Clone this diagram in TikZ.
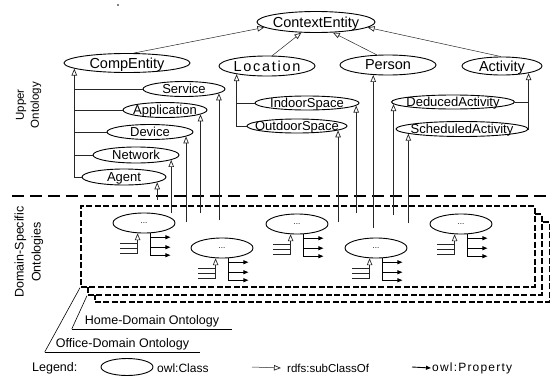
\documentclass[tikz,border=0pt]{standalone}
\usepackage{fontspec}
\setmainfont{Liberation Sans}
\usetikzlibrary{shapes.geometric,arrows.meta}
\newcommand{\ctext}[1]{\makebox[0pt]{\smash{\raisebox{-0.5\height}{#1}}}}
\newcommand{\domcls}[2]{%
  \node[dom] (#1) at (#2) {\ctext{...}};
  \path (#1.238) ++(0,20) coordinate (#1s);
  \draw[sub] (#1s) -- (#1.238);
  \draw[bus] (#1s) -- ++(-18,0);
  \draw[bus] ([yshift=5pt]#1s) -- ++(-18,0);
  \draw[bus] ([yshift=10pt]#1s) -- ++(-18,0);
  \path (#1.302) ++(0,22) coordinate (#1p);
  \draw[propl] (#1.302) -- (#1p);
  \draw[prop] (#1p) -- ++(20,0);
  \draw[prop] ([yshift=8pt]#1p) -- ++(20,0);
  \draw[prop] ([yshift=18pt]#1p) -- ++(20,0);
}
\begin{document}
\begin{tikzpicture}[x=1pt,y=-1pt,
  cls/.style={ellipse,draw,line width=0.9pt,inner sep=0pt,font=\fontsize{13}{13}\selectfont},
  topc/.style={cls,font=\fontsize{14.5}{14.5}\selectfont},
  dom/.style={ellipse,draw,line width=0.9pt,inner sep=0pt,minimum width=62pt,minimum height=20pt,font=\fontsize{8}{8}\selectfont},
  sub/.style={line width=0.5pt,draw=black!85,-{Triangle[open,length=7pt,width=5.5pt,line width=0.7pt]}},
  bus/.style={line width=0.5pt,draw=black!85},
  prop/.style={line width=0.9pt,-{Triangle[length=5pt,width=4pt]}},
  propl/.style={line width=0.9pt},
  bigdash/.style={line width=2.2pt,dash pattern=on 12pt off 6pt},
  boxd/.style={draw,line width=1.7pt,dash pattern=on 6pt off 2.5pt,fill=white,inner sep=0pt,anchor=north west},
  lab/.style={font=\fontsize{12.5}{12.5}\selectfont,inner ysep=2pt},
  side/.style={rotate=90,align=center},
]
\useasboundingbox (0,0) rectangle (550,378);
\fill (118,5) circle (0.9pt);

% domain boxes
\node[boxd,minimum width=455pt,minimum height=80pt] (dom3) at (94,221) {};
\node[boxd,minimum width=454pt,minimum height=81pt] (home) at (87,213) {};
\node[boxd,minimum width=454pt,minimum height=81pt] (office) at (80,205) {};

% separator
\coordinate (sepL) at (12,196);
\coordinate (sepR) at (550,196);
\draw[bigdash] (sepL) -- (sepR);

% side labels
\node[side,font=\fontsize{11.5}{15}\selectfont] (uo) at (28.5,105) {Upper\\Ontology};
\node[side,font=\fontsize{12.5}{17}\selectfont] (dso) at (29,252) {Domain-Specific\\Ontologies};

% upper ontology classes
\node[topc,minimum width=118pt,minimum height=21pt] (ctx) at (316,22) {\ctext{ContextEntity}};
\node[topc,minimum width=126pt,minimum height=19pt] (comp) at (127,63) {\ctext{CompEntity}};
\node[topc,minimum width=96pt,minimum height=20pt] (loc) at (267,66) {\ctext{\addfontfeatures{LetterSpace=12}Location}};
\node[topc,minimum width=96pt,minimum height=20pt] (person) at (388,65) {\ctext{Person}};
\node[topc,minimum width=80pt,minimum height=18pt] (act) at (502,66) {\ctext{Activity}};

\node[cls,minimum width=82pt,minimum height=15pt] (service) at (184,89) {\ctext{Service}};
\node[cls,minimum width=84pt,minimum height=15pt] (app) at (165,110) {\ctext{Application}};
\node[cls,minimum width=86pt,minimum height=15pt] (device) at (150,132) {\ctext{Device}};
\node[cls,minimum width=86pt,minimum height=16pt] (network) at (136,155) {\ctext{Network}};
\node[cls,minimum width=84pt,minimum height=16pt] (agent) at (124,177) {\ctext{Agent}};
\node[cls,minimum width=104pt,minimum height=14pt] (indoor) at (307,103) {\ctext{IndoorSpace}};
\node[cls,minimum width=100pt,minimum height=14pt] (outdoor) at (297,126) {\ctext{OutdoorSpace}};
\node[cls,minimum width=123pt,minimum height=14pt] (deduced) at (453,102) {\ctext{DeducedActivity}};
\node[cls,minimum width=132pt,minimum height=15pt] (scheduled) at (462,129) {\ctext{ScheduledActivity}};

% to ContextEntity
\draw[sub] (comp.56) -- (ctx.186);
\draw[sub] (loc.63) -- (ctx.216);
\draw[sub] (person.138) -- (ctx.328);
\draw[sub] (act.97) -- (ctx.354);

% CompEntity bus
\draw[sub] (agent.west) -| (comp.186);
\draw[bus] (service.west) -- (service.west -| comp.186);
\draw[bus] (app.west) -- (app.west -| comp.186);
\draw[bus] (device.west) -- (device.west -| comp.186);
\draw[bus] (network.west) -- (network.west -| comp.186);

% Location bus
\draw[sub] (outdoor.west) -| (loc.195);
\draw[bus] (indoor.west) -- (indoor.west -| loc.195);

% Activity bus
\draw[sub] (scheduled.east) -| (act.345);
\draw[bus] (deduced.east) -- (deduced.east -| act.345);

% lines down into the domain ontologies
\coordinate (yA) at (0,200);
\coordinate (yB) at (0,213);
\coordinate (yC) at (0,215);
\coordinate (yD) at (0,220);
\coordinate (yE) at (0,222);
\coordinate (yF) at (0,223);
\coordinate (yG) at (0,228);
\draw[sub] (agent.351 |- yA) -- (agent.351);
\draw[sub] (network.352 |- yB) -- (network.352);
\draw[sub] (device.353 |- yE) -- (device.353);
\draw[sub] (app.353 |- yB) -- (app.353);
\draw[sub] (service.353 |- yD) -- (service.353);
\draw[sub] (outdoor.354 |- yE) -- (outdoor.354);
\draw[sub] (indoor.357 |- yB) -- (indoor.357);
\draw[sub] (person.214 |- yG) -- (person.214);
\draw[sub] (deduced.182 |- yC) -- (deduced.182);
\draw[sub] (scheduled.185 |- yF) -- (scheduled.185);

% domain classes
\domcls{d1}{144,223}
\domcls{d2}{222,248}
\domcls{d3}{297,224}
\domcls{d4}{376,248}
\domcls{d5}{461,224}

% box labels
\node[lab,anchor=south,inner xsep=13pt] (homel) at (152,329) {Home-Domain Ontology};
\draw[line width=0.6pt] (homel.south west) -- (homel.south east);
\draw[line width=0.6pt] (homel.south west) -- (home.south west);
\node[lab,anchor=south,inner xsep=11pt] (officel) at (122.5,352) {Office-Domain Ontology};
\draw[line width=0.6pt] (officel.south west) -- (officel.south east);
\draw[line width=0.6pt] (officel.south west) -- (office.south west);

% legend
\node[lab,anchor=west,inner xsep=0pt] (leg) at (32,368) {Legend:};
\node[cls,minimum width=52pt,minimum height=17pt] (legc) at (127,367) {};
\node[lab,anchor=west,inner xsep=0pt,font=\fontsize{12}{12}\selectfont] (legct) at (157,368) {owl:Class};
\coordinate (lsA) at (252,367);
\node[lab,anchor=west,inner xsep=0pt,font=\fontsize{11.5}{11.5}\selectfont] (legst) at (287,368) {rdfs:subClassOf};
\draw[sub] (lsA) -- ([xshift=-6pt]legst.west);
\coordinate (lpA) at (412,367);
\node[lab,anchor=west,inner xsep=0pt,font=\fontsize{12}{12}\selectfont\addfontfeatures{LetterSpace=10}] (legpt) at (432,368) {owl:Property};
\draw[prop] (lpA) -- ([xshift=-1pt]legpt.west);
\end{tikzpicture}
\end{document}
